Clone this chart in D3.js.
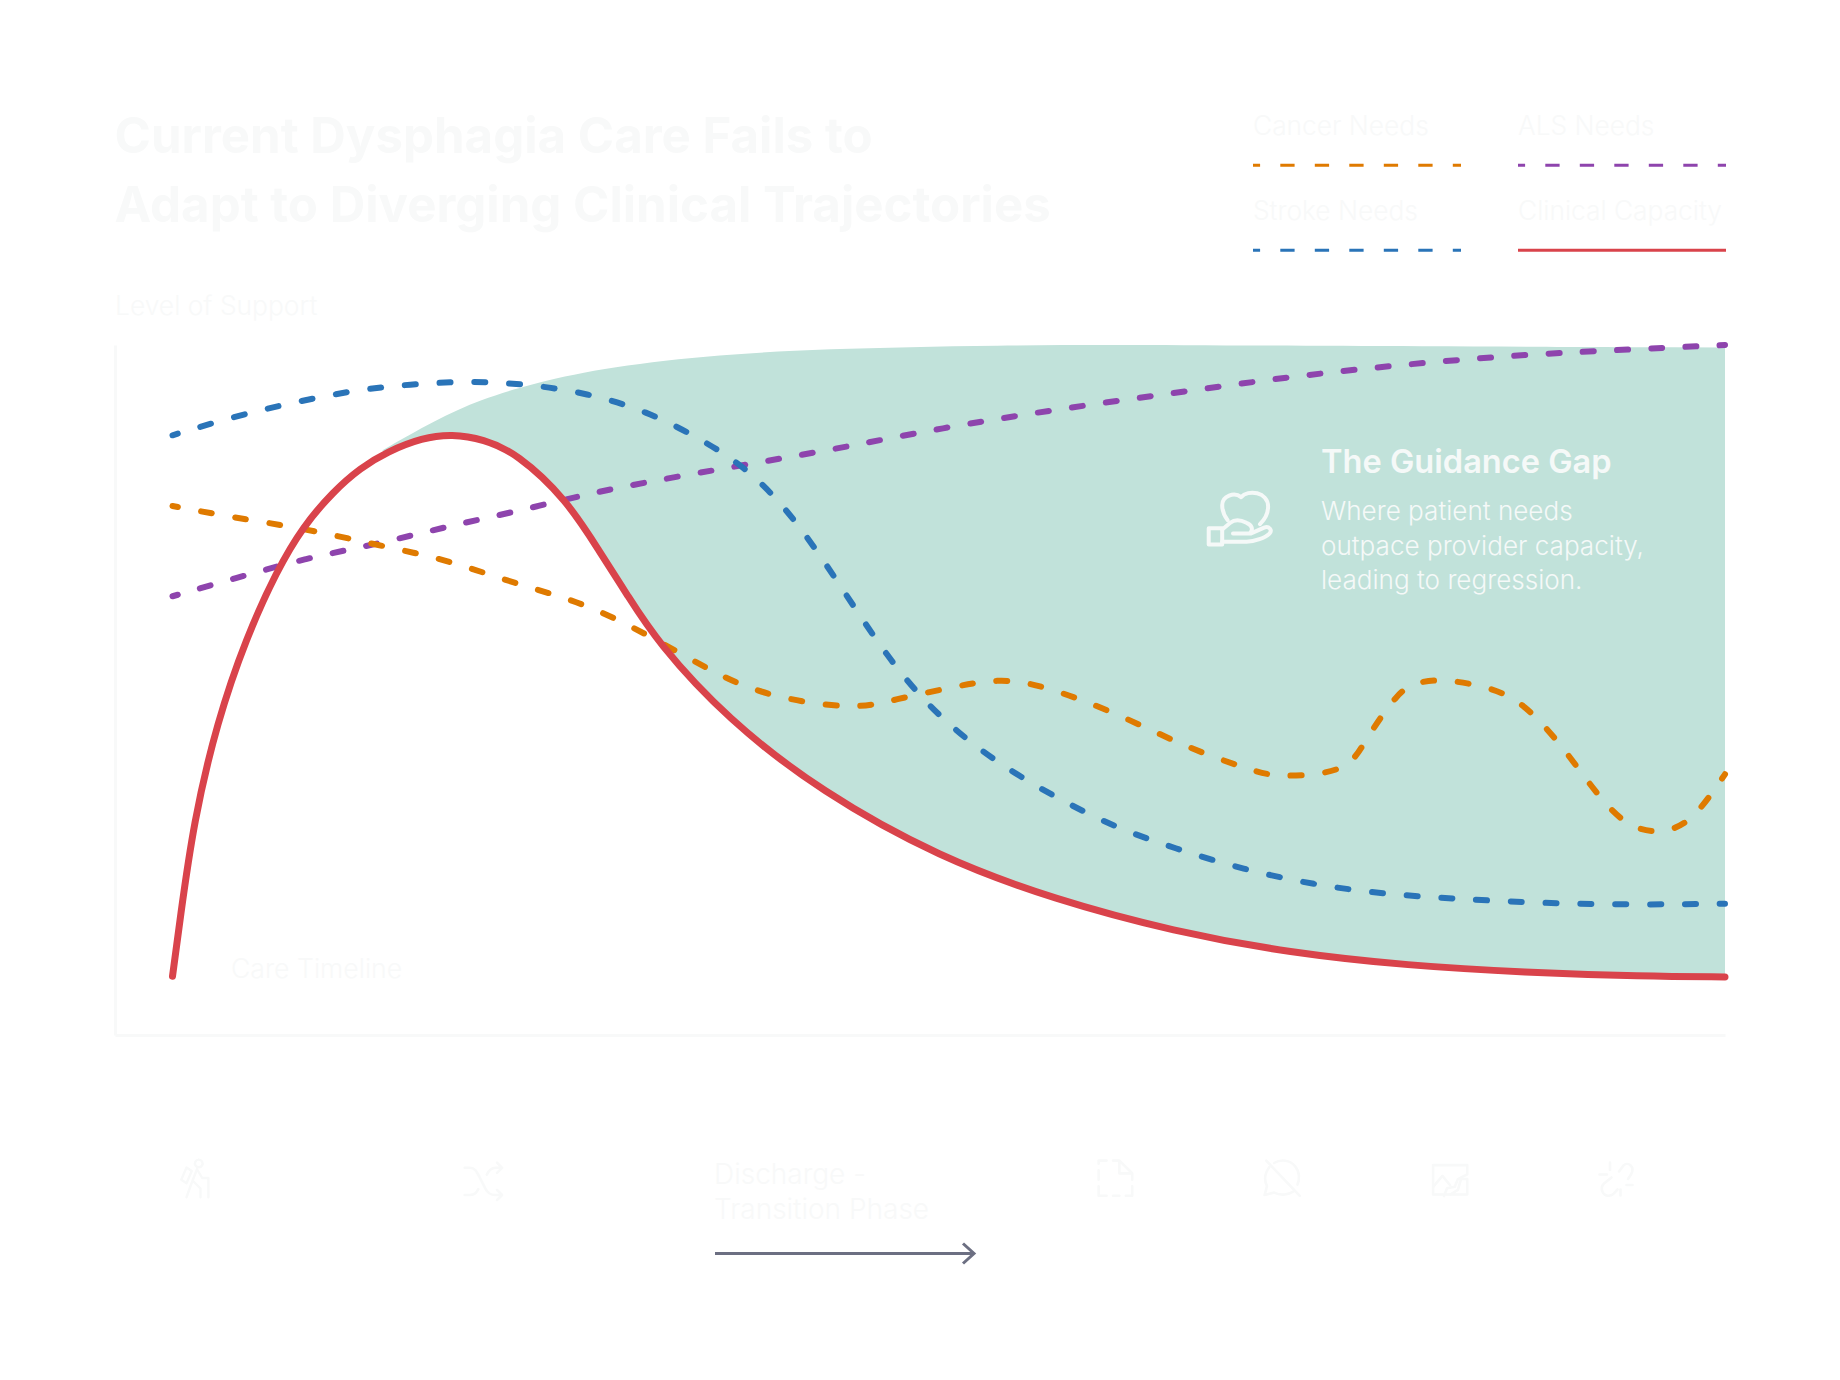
<!DOCTYPE html>
<html>
<head>
<meta charset="utf-8">
<script src="https://cdn.jsdelivr.net/npm/d3@7/dist/d3.min.js"></script>
<style>
html,body{margin:0;padding:0;background:#fff}
svg{display:block}
text{font-family:Inter,"Noto Sans",sans-serif}
</style>
</head>
<body>
<svg id="c" width="1840" height="1380"></svg>
<script>
const titleLines = ["Current Dysphagia Care Fails to", "Adapt to Diverging Clinical Trajectories"];
const yLabel = "Level of Support";
const xLabel = "Care Timeline";
const phaseLines = ["Discharge -", "Transition Phase"];
const gapTitle = "The Guidance Gap";
const gapBody = ["Where patient needs", "outpace provider capacity,", "leading to regression."];
const legendNames = ["Cancer Needs", "ALS Needs", "Stroke Needs", "Clinical Capacity"];

const capacityT = [0,0.48,1.36,2.87,4.76,6.73,8.39,10.36,12.09,13.83,16.1,18,20.03,22.15,25.4,27.5,29.3,31.2,35.75,41.8,49.4,56.9,64.5,72,79.6,87.1,94.7,100];
const capacityV = [0,8.9,24.5,40.3,53.7,64.3,71.2,76.8,80.5,83.1,85.3,85.9,85.1,82.9,75.5,67.3,60.4,53,40.7,29.2,18.8,12.1,7.1,3.7,1.7,0.6,0,-0.1];
const gapTopT = [13.5,16.9,19.9,22.9,27.5,34.2,41.8,53.1,64.5,79.6,100];
const gapTopV = [83.3,88.1,91.4,93.7,96.3,98.3,99.4,100,100,99.8,99.6];
const strokeT = [0,4,7.8,11.6,15.3,19.1,22.9,26.7,30.5,34.2,37.3,40.3,43.3,46.3,49.4,53.1,56.9,60.7,64.5,69,73.5,78.1,82.6,87.1,93.2,100];
const strokeV = [85.7,88.7,90.9,92.8,93.8,94.3,93.8,92.4,89.6,84.9,80,71.9,60.8,49.6,40.9,33.8,28.3,23.6,20.3,16.9,14.5,13,12.3,11.7,11.3,11.5];
const cancerT = [0,4,8.5,13.1,17.6,22.1,26.7,31.2,35,38.8,43.5,46.7,50.1,53.1,56.2,60.7,65.2,69,71.6,75.1,76.9,78.8,80.3,82.2,84.9,87.1,89.4,91.7,93.6,95.5,97.7,100];
const cancerV = [74.5,72.7,70.8,68.4,65.8,62.3,58.6,53.2,48.1,44.5,42.8,43.9,45.7,46.8,45.7,41.6,36.6,33.1,31.8,32.9,37.5,44.1,46.5,46.8,45.5,42.6,36.6,29.2,24.5,23,24.9,32];
const alsT = [0,4,8.5,13.1,17.6,22.1,26.7,31.2,37.3,43.3,49.4,56.9,64.5,72,79.6,87.1,94.7,100];
const alsV = [60.2,63,66.2,68.4,71.2,73.6,76.4,78.6,81.2,83.8,86.8,89.8,92.4,95,97,98.5,99.4,100];

const C = {cancer:"#df7a00", als:"#8e44ad", stroke:"#2a74b8", capacity:"#d9434b", gap:"#c1e2da", faint:"#f8f9f9", arrow:"#6c6f82", onGap:"#f5f9f8"};

const svg = d3.select("#c");
const x = d3.scaleLinear().domain([0,100]).range([172.5,1725]);
const y = d3.scaleLinear().domain([0,100]).range([976.3,345]);
const zip = (t,v) => t.map((d,i)=>[d,v[i]]);
const lineB = d3.line().x(d=>x(d[0])).y(d=>y(d[1])).curve(d3.curveBasis);
const lineN = d3.line().x(d=>x(d[0])).y(d=>y(d[1])).curve(d3.curveNatural);

// frame
const frameY = d3.scaleLinear().domain([0,1]).range([1035,345]);
const frameX = d3.scaleLinear().domain([0,1]).range([115,1725]);
svg.append("g").attr("transform","translate(115,0)").call(d3.axisLeft(frameY).tickValues([]).tickSizeOuter(0));
svg.append("g").attr("transform","translate(0,1035)").call(d3.axisBottom(frameX).tickValues([]).tickSizeOuter(0));
svg.selectAll(".domain").attr("stroke",C.faint).attr("stroke-width",3);

// gap fill
const cap = zip(capacityT,capacityV);
const top_ = zip(gapTopT,gapTopV);
const backCap = cap.filter(d=>d[0]>=13.83).reverse();
svg.append("path").attr("fill",C.gap)
  .attr("d", lineB(top_) + "L" + lineB(backCap).slice(1) + "Z");

// series: dash period is fitted so each line starts and ends on a half dash, like the legend keys
const seriesDef = [
  [alsT,alsV,C.als,lineB],
  [strokeT,strokeV,C.stroke,lineB],
  [cancerT,cancerV,C.cancer,lineN]
];
seriesDef.forEach(([t,v,c,gen])=>{
  const p = svg.append("path").attr("fill","none").attr("stroke",c).attr("stroke-width",6)
    .attr("stroke-linecap","round").attr("d",gen(zip(t,v)));
  const L = p.node().getTotalLength();
  const n = Math.round(L/34.5);
  p.attr("stroke-dasharray",`11 ${L/n-11}`).attr("stroke-dashoffset",5.5);
});
svg.append("path").attr("fill","none").attr("stroke",C.capacity).attr("stroke-width",7)
  .attr("stroke-linecap","round").attr("d",lineB(cap));

// texts
const T = (s,px,py,size,weight,fill)=>svg.append("text").attr("x",px).attr("y",py)
  .attr("font-size",size).attr("font-weight",weight).attr("fill",fill).text(s);
titleLines.forEach((s,i)=>T(s,114.5,153+i*69,49.2,700,C.faint));
T(yLabel,115,315,26.4,300,C.faint);
T(xLabel,231,978,26.6,300,C.faint);
phaseLines.forEach((s,i)=>T(s,714,1184+i*34.5,28,300,C.faint));
T(gapTitle,1321,473,32.6,600,C.onGap);
gapBody.forEach((s,i)=>T(s,1321,520+i*34.5,26.1,300,C.onGap));

// legend
const legendCols = [1253,1518,1253,1518];
const legendBase = [135,135,220,220];
const legendColors = [C.cancer,C.als,C.stroke,C.capacity];
legendNames.forEach((n,i)=>{
  T(n,legendCols[i],legendBase[i],26.3,300,C.faint);
  const ly = legendBase[i]+30.3;
  const l = svg.append("line").attr("x1",legendCols[i]).attr("x2",legendCols[i]+208).attr("y1",ly).attr("y2",ly)
    .attr("stroke",legendColors[i]).attr("stroke-width",3);
  if(i<3) l.attr("stroke-dasharray","14.3 20.2").attr("stroke-dashoffset",7.2);
});

// arrow
svg.append("path").attr("fill","none").attr("stroke",C.arrow).attr("stroke-width",3)
  .attr("d","M715 1253.5H974M963 1243.5L974 1253.5L963 1263.5");

// icons
const icon = (tx,ty,s,col,sw,paths)=>{
  const g = svg.append("g").attr("transform",`translate(${tx},${ty}) scale(${s})`)
    .attr("fill","none").attr("stroke",col).attr("stroke-width",sw/s)
    .attr("stroke-linecap","round").attr("stroke-linejoin","round");
  paths.forEach(d=>g.append("path").attr("d",d));
};
// hand + heart
icon(1206,485,2.7,C.onGap,4,[
  "M1 16h5v6H1z",
  "M6 21h9c3 0 7-1.5 8.5-3 1.2-1.3-.2-3-2-2.2l-5 2.2H10",
  "M6 16.5l3-2.5c2-1.6 4-1 6 0 2 .8 2.5 2.3 1.5 3.6",
  "M8 13C6.5 11 6 9.5 6 7.5 6 4 10.5 2.5 13 4.5 15.5 1.5 23 2.5 23 8c0 3-1.5 5-3 6.5"
]);
// walking person with cane
icon(176,1157,1.75,C.faint,2.4,[
  "M13 1.5a2.2 2.2 0 1 0 .01 0",
  "M12 7l-3.5 9-2.5 7",
  "M12 7l3 5h3.5v11",
  "M10 14l4 4v5",
  "M6 6l-3 7 3 2 3-7z"
]);
// shuffle
icon(463,1161,1.7,C.faint,2.6,[
  "M1 4h3c3 0 4 2 6 6l3 6c1.5 3 3 4 6 4h4M20 17l3 3-3 3",
  "M1 20h3c3 0 4-1.5 5-3.5",
  "M14 8c1.5-3 3-4 5-4h4M20 1l3 3-3 3"
]);
// dashed file
icon(1097,1159,1.6,C.faint,2.6,[
  "M1 3V1h5M10 1h4l8 8v4M14 1v8h8",
  "M1 7v6M1 17v6h5M10 23h4M18 23h4v-6"
]);
// message crossed out
icon(1263,1159,1.6,C.faint,2.6,[
  "M2 1l21 22",
  "M7 2.5C11 0 17 .5 20 4.5c3 3.5 3 8.5 1.5 11.5",
  "M4 5C1 9 .5 13 2.5 17L1 22.5l6-1.5c4 2 9 1.5 12.5-1"
]);
// split image
icon(1430,1162,1.55,C.faint,2.6,[
  "M13 21H2V2h22v6l-6 3-2 5-5 1-2 5",
  "M2 16l6-7 5 6",
  "M24 11v10H13l5-3 2-7z"
]);
// broken link
icon(1598,1161,1.5,C.faint,2.6,[
  "M14 7l3-4c3-3 8 1 5 6l-2 3",
  "M9 11l-5 4c-3 3-1 9 4 8 2 0 3-2 5-4",
  "M8 1v5M1 9h5M19 16h4M15 19v4"
]);
</script>
</body>
</html>
